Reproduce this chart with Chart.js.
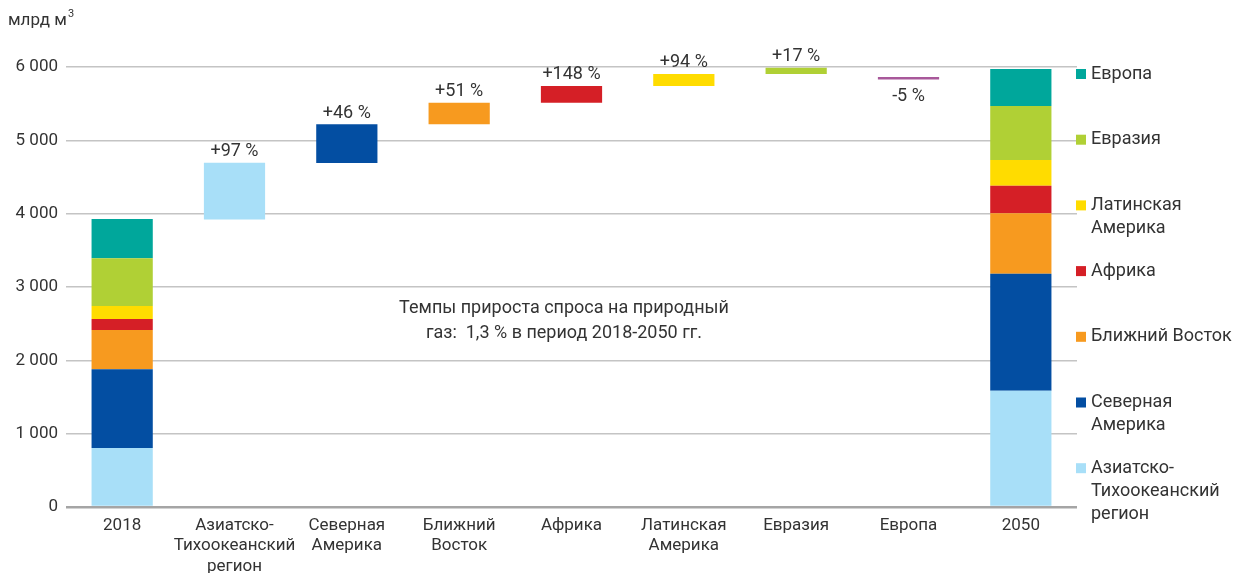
<!DOCTYPE html>
<html>
<head>
<meta charset="utf-8">
<script src="https://cdn.jsdelivr.net/npm/chart.js@4"></script>
<style>
  html, body { margin: 0; padding: 0; background: #fff; }
  #wrap { width: 1236px; height: 573px; position: relative; }
</style>
</head>
<body>
<div id="wrap"><canvas id="gasChart" width="1236" height="573"></canvas></div>
<script>
const categories = [
    '2018',
    ['Азиатско-', 'Тихоокеанский', 'регион'],
    ['Северная', 'Америка'],
    ['Ближний', 'Восток'],
    'Африка',
    ['Латинская', 'Америка'],
    'Евразия',
    'Европа',
    '2050'
];

// regions, bottom to top of the stacked bars
const regions = ['Азиатско-Тихоокеанский регион', 'Северная Америка', 'Ближний Восток', 'Африка', 'Латинская Америка', 'Евразия', 'Европа'];
const legendNames = [['Азиатско-', 'Тихоокеанский', 'регион'], ['Северная', 'Америка'], ['Ближний Восток'], ['Африка'], ['Латинская', 'Америка'], ['Евразия'], ['Европа']];
const regionColors = ['#a8dff8', '#034ea2', '#f79a1f', '#d51f26', '#ffdc00', '#b0d035', '#00a79b'];

const demand2018 = [805, 1073, 536, 150, 177, 650, 536];
const demand2050 = [1586, 1596, 823, 377, 350, 736, 505];

// floating steps of the waterfall (low, high), categories 1..7
const stepLow  = [3920, 4691, 5218, 5514, 5741, 5905, 5828];
const stepHigh = [4696, 5218, 5514, 5741, 5905, 5990, 5865];
const stepColors = ['#a8dff8', '#034ea2', '#f79a1f', '#d51f26', '#ffdc00', '#b0d035', '#a8589a'];
const stepLabels = ['+97 %', '+46 %', '+51 %', '+148 %', '+94 %', '+17 %', '-5 %'];

const yTicks = [0, 1000, 2000, 3000, 4000, 5000, 6000];

const FONT = 'Roboto';
const TXT = '#333333';

function stackData(values) {
    let out = [];
    let base = 0;
    for (let i = 0; i < values.length; i++) {
        out.push(base);
        base += values[i];
    }
    return out;
}

const base2018 = stackData(demand2018);
const base2050 = stackData(demand2050);

const datasets = regions.map((name, i) => {
    const d = categories.map(() => null);
    d[0] = [base2018[i], base2018[i] + demand2018[i]];
    d[8] = [base2050[i], base2050[i] + demand2050[i]];
    return {
        label: name,
        data: d,
        backgroundColor: regionColors[i],
        borderWidth: 0,
        grouped: false,
        barPercentage: 0.545,
        categoryPercentage: 1
    };
});

const steps = categories.map(() => null);
stepLow.forEach((lo, i) => { steps[i + 1] = [lo, stepHigh[i]]; });
datasets.push({
    label: 'steps',
    data: steps,
    backgroundColor: [null].concat(stepColors, [null]),
    borderWidth: 0,
    grouped: false,
    barPercentage: 0.545,
    categoryPercentage: 1
});

const extras = {
    id: 'extras',
    afterDatasetsDraw(chart) {
        const c = chart.ctx;
        const y = chart.scales.y;
        const x = chart.scales.x;
        const area = chart.chartArea;
        c.save();
        c.fillStyle = TXT;
        c.textAlign = 'center';

        // step labels
        c.font = '18px ' + FONT;
        stepLabels.forEach((t, i) => {
            const px = x.getPixelForValue(i + 1);
            if (t.charAt(0) === '-') {
                c.textBaseline = 'top';
                c.fillText(t, px, y.getPixelForValue(stepLow[i]) + 8);
            } else {
                c.textBaseline = 'bottom';
                c.fillText(t, px, y.getPixelForValue(stepHigh[i]) - 2);
            }
        });

        // note in the middle
        c.textBaseline = 'middle';
        c.font = '18px ' + FONT;
        c.fillText('Темпы прироста спроса на природный', 564, 308);
        c.fillText('газ:  1,3 % в период 2018-2050 гг.', 564, 333);

        // unit
        c.textAlign = 'left';
        c.font = '17px ' + FONT;
        c.fillText('млрд м', 8, 21);
        const w = c.measureText('млрд м').width;
        c.font = '11px ' + FONT;
        c.fillText('3', 8 + w + 1, 14);

        // legend on the right, top item first
        c.font = '18px ' + FONT;
        for (let k = 0; k < regions.length; k++) {
            const i = regions.length - 1 - k;
            const ly = 74 + k * 65.7;
            c.fillStyle = regionColors[i];
            c.fillRect(area.right - 1, ly - 5, 10, 10);
            c.fillStyle = TXT;
            legendNames[i].forEach((line, j) => {
                c.fillText(line, area.right + 14, ly + j * 23);
            });
        }
        c.restore();
    }
};

new Chart(document.getElementById('gasChart'), {
    type: 'bar',
    data: { labels: categories, datasets: datasets },
    options: {
        responsive: false,
        animation: false,
        layout: { padding: { top: 67, right: 159, left: 0, bottom: 0 } },
        plugins: {
            legend: { display: false },
            tooltip: { enabled: false }
        },
        scales: {
            x: {
                grid: { display: false },
                border: { display: false },
                ticks: {
                    color: TXT,
                    font: { family: FONT, size: 17, lineHeight: 1.22 },
                    maxRotation: 0,
                    autoSkip: false,
                    padding: 0
                },
                afterFit(scale) { scale.height = 66; }
            },
            y: {
                min: 0,
                max: 6000,
                afterBuildTicks(scale) { scale.ticks = yTicks.map(v => ({ value: v })); },
                grid: {
                    drawTicks: false,
                    color: ctx => ctx.tick.value === 0 ? '#a5a5a5' : '#c4c4c4',
                    lineWidth: ctx => ctx.tick.value === 0 ? 2.5 : 1.5
                },
                border: { display: false },
                ticks: {
                    color: TXT,
                    font: { family: FONT, size: 17 },
                    padding: 8,
                    callback: v => v === 0 ? '0' : String(v).replace(/\B(?=(\d{3})+(?!\d))/g, ' ')
                },
                afterFit(scale) { scale.width = 66; }
            }
        }
    },
    plugins: [extras]
});
</script>
</body>
</html>
